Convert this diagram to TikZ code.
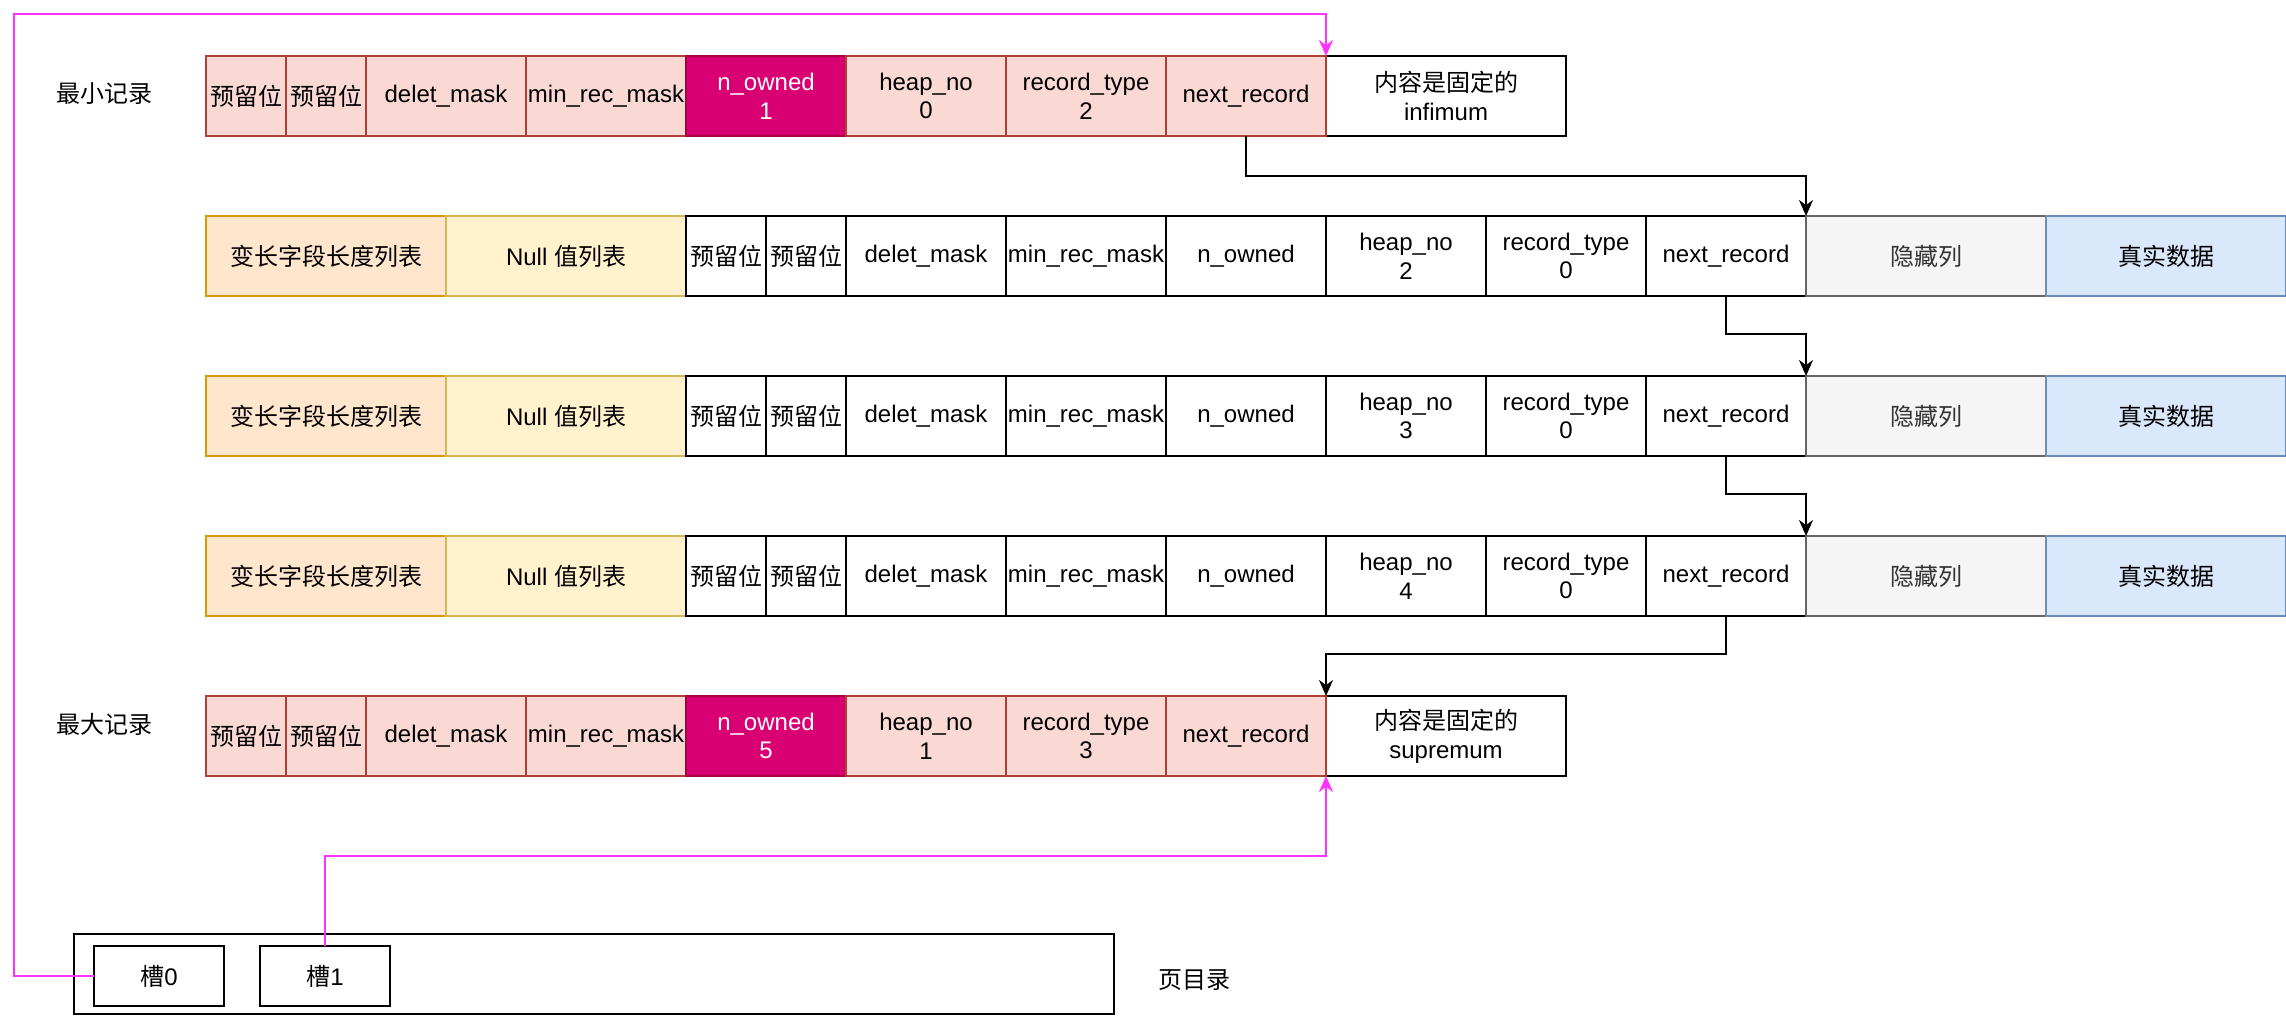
\documentclass[tikz,border=0pt]{standalone}
\usepackage{fontspec}
\setmainfont{Liberation Sans}
\newfontfamily\cjk{Noto Sans CJK SC}
\usetikzlibrary{positioning,arrows.meta}

\definecolor{pinkfill}{HTML}{FAD9D5}
\definecolor{pinkline}{HTML}{AE4132}
\definecolor{ownfill}{HTML}{D80073}
\definecolor{ownline}{HTML}{A50040}
\definecolor{varfill}{HTML}{FFE6CC}
\definecolor{varline}{HTML}{D79B00}
\definecolor{nullfill}{HTML}{FFF2CC}
\definecolor{nullline}{HTML}{D6B656}
\definecolor{hidefill}{HTML}{F5F5F5}
\definecolor{hideline}{HTML}{666666}
\definecolor{hidetext}{HTML}{333333}
\definecolor{datafill}{HTML}{DAE8FC}
\definecolor{dataline}{HTML}{6C8EBF}
\definecolor{slotpink}{HTML}{FF33FF}

\tikzset{
    cell/.style = {draw, rectangle, line width = 1pt, minimum height = 40pt,
        inner sep = 0pt, outer sep = 0pt, align = center,
        font = \fontsize{12pt}{14.4pt}\selectfont},
    w40/.style = {minimum width = 40pt},
    w80/.style = {minimum width = 80pt},
    w120/.style = {minimum width = 120pt},
    pinkcell/.style = {fill = pinkfill, draw = pinkline},
    owncell/.style = {fill = ownfill, draw = ownline, text = white},
    varcell/.style = {fill = varfill, draw = varline},
    nullcell/.style = {fill = nullfill, draw = nullline},
    hidecell/.style = {fill = hidefill, draw = hideline, text = hidetext},
    datacell/.style = {fill = datafill, draw = dataline},
    label/.style = {font = \fontsize{12pt}{14.4pt}\selectfont\cjk},
    nextline/.style = {line width = 1pt, -{Stealth[length = 8pt, width = 7pt]}},
    slotline/.style = {line width = 1pt, draw = slotpink, -{Stealth[length = 8pt, width = 7pt]}}
}

\begin{document}
\begin{tikzpicture}[x = 1pt, y = -1pt]
        \useasboundingbox (0,0) rectangle (1143,508);
        % smallest record
        \node[label] (minLabel) at (52,47) {最小记录};
        \node[cell, w120, anchor = west] (minInf) at (663,48) {{\cjk 内容是固定的}\\infimum};
        \node[cell, pinkcell, w40, anchor = west] (minResA) at (103,48) {\cjk 预留位};
        \node[cell, pinkcell, w40, right = 0pt of minResA] (minResB) {\cjk 预留位};
        \node[cell, pinkcell, w80, right = 0pt of minResB] (minDel) {delet\_mask};
        \node[cell, pinkcell, w80, right = 0pt of minDel] (minMask) {min\_rec\_mask};
        \node[cell, owncell, w80, right = 0pt of minMask] (minOwned) {n\_owned\\1};
        \node[cell, pinkcell, w80, right = 0pt of minOwned] (minHeap) {heap\_no\\0};
        \node[cell, pinkcell, w80, right = 0pt of minHeap] (minType) {record\_type\\2};
        \node[cell, pinkcell, w80, right = 0pt of minType] (minNext) {next\_record};

        % user records
        \foreach \r/\y in {2/128, 3/208, 4/288} {
            \node[cell, varcell, w120, anchor = west] (var\r) at (103,\y) {\cjk 变长字段长度列表};
            \node[cell, nullcell, w120, right = 0pt of var\r] (null\r) {Null {\cjk 值列表}};
            \node[cell, w40, right = 0pt of null\r] (resA\r) {\cjk 预留位};
            \node[cell, w40, right = 0pt of resA\r] (resB\r) {\cjk 预留位};
            \node[cell, w80, right = 0pt of resB\r] (del\r) {delet\_mask};
            \node[cell, w80, right = 0pt of del\r] (mask\r) {min\_rec\_mask};
            \node[cell, w80, right = 0pt of mask\r] (owned\r) {n\_owned};
            \node[cell, w80, right = 0pt of owned\r] (heap\r) {heap\_no\\\r};
            \node[cell, w80, right = 0pt of heap\r] (type\r) {record\_type\\0};
            \node[cell, w80, right = 0pt of type\r] (next\r) {next\_record};
            \node[cell, hidecell, w120, right = 0pt of next\r] (hide\r) {\cjk 隐藏列};
            \node[cell, datacell, w120, right = 0pt of hide\r] (data\r) {\cjk 真实数据};
        }

        % largest record
        \node[label] (maxLabel) at (52,362) {最大记录};
        \node[cell, w120, anchor = west] (maxInf) at (663,368) {{\cjk 内容是固定的}\\supremum};
        \node[cell, pinkcell, w40, anchor = west] (maxResA) at (103,368) {\cjk 预留位};
        \node[cell, pinkcell, w40, right = 0pt of maxResA] (maxResB) {\cjk 预留位};
        \node[cell, pinkcell, w80, right = 0pt of maxResB] (maxDel) {delet\_mask};
        \node[cell, pinkcell, w80, right = 0pt of maxDel] (maxMask) {min\_rec\_mask};
        \node[cell, owncell, w80, right = 0pt of maxMask] (maxOwned) {n\_owned\\5};
        \node[cell, pinkcell, w80, right = 0pt of maxOwned] (maxHeap) {heap\_no\\1};
        \node[cell, pinkcell, w80, right = 0pt of maxHeap] (maxType) {record\_type\\3};
        \node[cell, pinkcell, w80, right = 0pt of maxType] (maxNext) {next\_record};

        % page directory
        \node[cell, minimum width = 520pt] (dir) at (297,487) {};
        \node[cell, minimum width = 65pt, minimum height = 30pt] (slot0) at (79.5,488) {{\cjk 槽}0};
        \node[cell, minimum width = 65pt, minimum height = 30pt] (slot1) at (162.5,488) {{\cjk 槽}1};
        \node[label] (dirLabel) at (597,490) {页目录};

        % next_record links
        \draw[nextline] (minNext.south) -- ++(0,20) -| (hide2.north west);
        \draw[nextline] (next2.south) -- ++(0,19) -| (hide3.north west);
        \draw[nextline] (next3.south) -- ++(0,19) -| (hide4.north west);
        \draw[nextline] (next4.south) -- ++(0,19) -| (maxInf.north west);

        % slots
        \coordinate (slotCorner) at (7,7);
        \draw[slotline] (slot0.west) -| (slotCorner) -| (minInf.north west);
        \draw[slotline] (slot1.north) -- ++(0,-45) -| (maxInf.south west);
    \end{tikzpicture}
\end{document}
